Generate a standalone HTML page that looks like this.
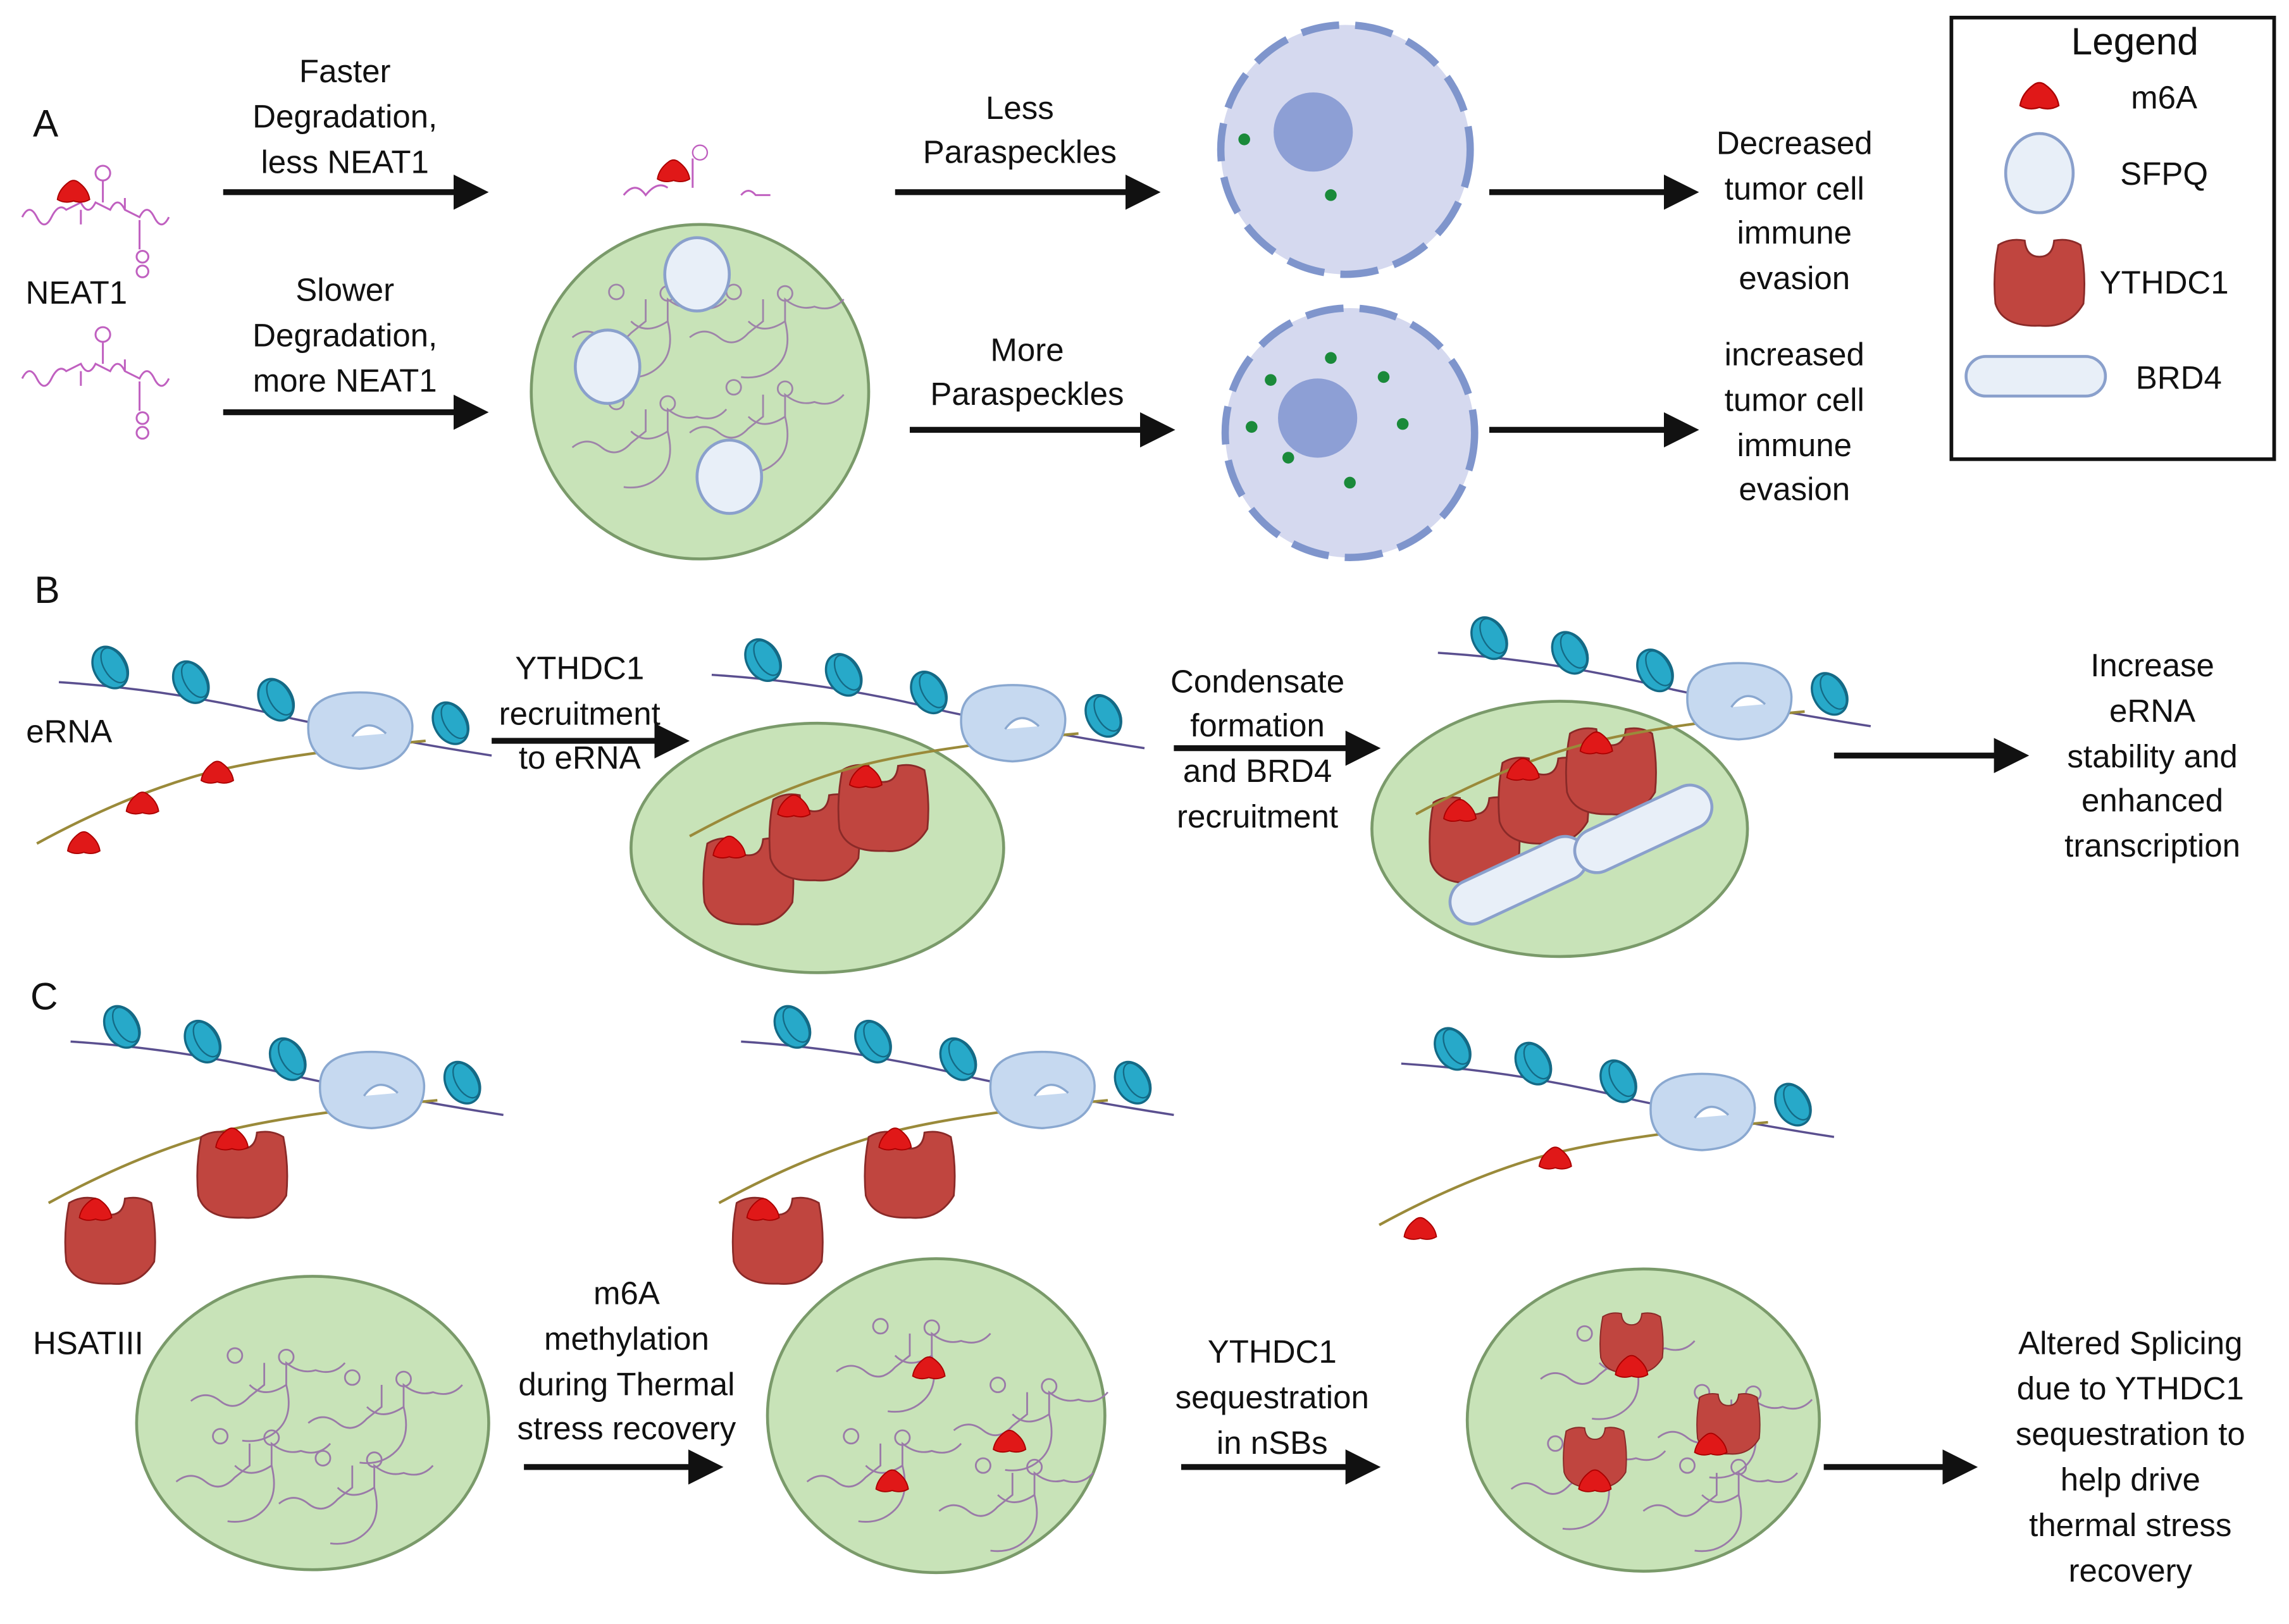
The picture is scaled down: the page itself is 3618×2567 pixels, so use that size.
<!DOCTYPE html>
<html><head><meta charset="utf-8"><style>
html,body{margin:0;padding:0;background:#fff;}
svg{display:block;}
text{font-family:"Liberation Sans",sans-serif;font-size:22px;fill:#111;text-anchor:middle;}
</style></head><body>
<svg width="3618" height="2567" viewBox="0 0 1560 1107" xmlns="http://www.w3.org/2000/svg">
<defs>
<marker id="ah" markerWidth="6" markerHeight="6" refX="4" refY="3" orient="auto" markerUnits="strokeWidth"><path d="M0,0 L6,3 L0,6 Z" fill="#111"/></marker>
<g id="m6a"><path d="M-11,5 Q-10,-2 -3,-7 Q0,-9 3,-7 Q10,-2 11,5 Q6,8 0,6 Q-6,8 -11,5Z" fill="#e01818" stroke="#a00" stroke-width="0.8"/></g>
<g id="yth"><path d="M-28,-25 Q-20,-30 -10,-28 Q-9,-17 0,-17 Q9,-17 10,-28 Q20,-30 28,-25 Q32,-5 30,15 Q20,32 0,30 Q-25,31 -30,15 Q-32,-5 -28,-25Z" fill="#c0453f" stroke="#8a2a28" stroke-width="1.2"/></g>
<g id="nuc"><ellipse rx="11" ry="15" fill="#27a9c9" stroke="#146a86" stroke-width="1.5"/><ellipse cx="3" rx="7" ry="13" fill="none" stroke="#146a86" stroke-width="1"/></g>
<g id="pol"><path d="M-35,-5 Q-35,-28 0,-28 Q35,-28 36,-5 Q36,22 0,24 Q-36,22 -35,-5Z" fill="#c6d9f0" stroke="#8aa8d0" stroke-width="1.5"/><path d="M-5,2 Q5,-12 18,0" fill="#fff" stroke="#8aa8d0" stroke-width="1.5"/></g>
<g id="sfpq"><ellipse rx="22" ry="25" fill="#e8eff8" stroke="#8aa0cc" stroke-width="2"/></g>
<g id="neat" fill="none" stroke="#c060c0" stroke-width="1.3"><path d="M0,30 q5,-10 10,0 q5,10 10,0 q5,-10 10,-5 l10,-5 q5,10 10,0 l10,5 q5,-10 10,0 l10,5 q5,-10 10,0 q5,10 10,0"/><path d="M55,20 v-15"/><circle cx="55" cy="0" r="5"/><path d="M80,32 v20"/><circle cx="82" cy="57" r="4"/><circle cx="82" cy="67" r="4"/><path d="M40,25 v10 M70,25 v-8"/></g>
<g id="srna" fill="none" stroke="#9a7aa8" stroke-width="1.2"><path d="M-50,0 q10,-8 20,0 q10,8 20,-3 l10,-8 v-15 M-10,-11 q10,10 25,0 v-15 q10,8 20,5 q12,4 20,-5"/><circle cx="-20" cy="-31" r="5"/><circle cx="15" cy="-30" r="5"/><path d="M15,-11 q5,20 -5,30 q-10,10 -25,8"/></g>
</defs>

<!-- A -->
<text x="31" y="93" style="font-size:26px">A</text>
<use href="#neat" x="15" y="118"/>
<use href="#m6a" x="50" y="131"/>
<text x="52" y="207">NEAT1</text>
<use href="#neat" x="15" y="228"/>
<text x="235" y="56">Faster</text><text x="235" y="87">Degradation,</text><text x="235" y="118">less NEAT1</text>
<line x1="152" y1="131" x2="325" y2="131" stroke="#111" stroke-width="4" marker-end="url(#ah)"/>
<text x="235" y="205">Slower</text><text x="235" y="236">Degradation,</text><text x="235" y="267">more NEAT1</text>
<line x1="152" y1="281" x2="325" y2="281" stroke="#111" stroke-width="4" marker-end="url(#ah)"/>
<path d="M425,133 q8,-10 15,0 q8,-10 15,-5 M472,128 v-20 M505,133 q5,-6 10,0 h10" fill="none" stroke="#c060c0" stroke-width="1.3"/><circle cx="477" cy="104" r="5" fill="none" stroke="#c060c0"/>
<use href="#m6a" x="459" y="117"/>
<ellipse cx="477" cy="267" rx="115" ry="114" fill="#c8e3b8" stroke="#7a9a6a" stroke-width="2"/>
<g opacity="0.9"><use href="#srna" x="440" y="230"/><use href="#srna" x="520" y="230"/><use href="#srna" x="440" y="305"/><use href="#srna" x="520" y="295"/></g>
<use href="#sfpq" x="475" y="187"/><use href="#sfpq" x="414" y="250"/><use href="#sfpq" x="497" y="325"/>
<text x="695" y="81">Less</text><text x="695" y="111">Paraspeckles</text>
<line x1="610" y1="131" x2="783" y2="131" stroke="#111" stroke-width="4" marker-end="url(#ah)"/>
<text x="700" y="246">More</text><text x="700" y="276">Paraspeckles</text>
<line x1="620" y1="293" x2="793" y2="293" stroke="#111" stroke-width="4" marker-end="url(#ah)"/>
<circle cx="917" cy="102" r="85" fill="#d5d9ef" stroke="#7f95cc" stroke-width="5" stroke-dasharray="26 11"/>
<circle cx="895" cy="90" r="27" fill="#8d9fd5"/>
<circle cx="848" cy="95" r="4" fill="#1a8a3a"/><circle cx="907" cy="133" r="4" fill="#1a8a3a"/>
<circle cx="920" cy="295" r="85" fill="#d5d9ef" stroke="#7f95cc" stroke-width="5" stroke-dasharray="26 11"/>
<circle cx="898" cy="285" r="27" fill="#8d9fd5"/>
<g fill="#1a8a3a"><circle cx="907" cy="244" r="4"/><circle cx="866" cy="259" r="4"/><circle cx="943" cy="257" r="4"/><circle cx="853" cy="291" r="4"/><circle cx="956" cy="289" r="4"/><circle cx="878" cy="312" r="4"/><circle cx="920" cy="329" r="4"/></g>
<line x1="1015" y1="131" x2="1150" y2="131" stroke="#111" stroke-width="4" marker-end="url(#ah)"/>
<line x1="1015" y1="293" x2="1150" y2="293" stroke="#111" stroke-width="4" marker-end="url(#ah)"/>
<text x="1223" y="105">Decreased</text><text x="1223" y="136">tumor cell</text><text x="1223" y="166">immune</text><text x="1223" y="197">evasion</text>
<text x="1223" y="249">increased</text><text x="1223" y="280">tumor cell</text><text x="1223" y="311">immune</text><text x="1223" y="341">evasion</text>
<!-- Legend -->
<rect x="1330" y="12" width="220" height="301" fill="#fff" stroke="#111" stroke-width="2.5"/>
<text x="1455" y="37" style="font-size:26px">Legend</text>
<use href="#m6a" transform="translate(1390 66) scale(1.2)"/>
<text x="1475" y="74">m6A</text>
<ellipse cx="1390" cy="118" rx="23" ry="27" fill="#e8eff8" stroke="#8aa0cc" stroke-width="2"/>
<text x="1475" y="126">SFPQ</text>
<use href="#yth" transform="translate(1390 192)"/>
<text x="1475" y="200">YTHDC1</text>
<rect x="1340" y="243" width="95" height="27" rx="13.5" fill="#e8eff8" stroke="#8aa0cc" stroke-width="2"/>
<text x="1485" y="265">BRD4</text>

<!-- B -->
<text x="32" y="411" style="font-size:26px">B</text>
<g id="chrom1">
<path d="M40,465 Q120,470 200,490 Q270,505 335,515" fill="none" stroke="#5a4f8f" stroke-width="1.5"/>
<use href="#nuc" transform="translate(75,455) rotate(-30)"/><use href="#nuc" transform="translate(130,465) rotate(-30)"/><use href="#nuc" transform="translate(188,477) rotate(-30)"/><use href="#nuc" transform="translate(307,493) rotate(-30)"/>
<path d="M25,575 Q80,545 130,530 Q180,515 290,505" fill="none" stroke="#9a8a3a" stroke-width="1.8"/>
<use href="#pol" x="245" y="500"/>
</g>
<use href="#m6a" x="57" y="575"/><use href="#m6a" x="97" y="548"/><use href="#m6a" x="148" y="527"/>
<text x="47" y="506">eRNA</text>
<text x="395" y="463">YTHDC1</text><text x="395" y="494">recruitment</text><text x="395" y="524">to eRNA</text>
<line x1="335" y1="505" x2="462" y2="505" stroke="#111" stroke-width="4" marker-end="url(#ah)"/>
<ellipse cx="557" cy="578" rx="127" ry="85" fill="#c8e3b8" stroke="#7a9a6a" stroke-width="2"/>
<use href="#yth" transform="translate(510,600)"/><use href="#yth" transform="translate(555,570)"/><use href="#yth" transform="translate(602,550)"/>
<g transform="translate(445,-5)"><use href="#chrom1"/></g>
<use href="#m6a" x="497" y="578"/><use href="#m6a" x="541" y="550"/><use href="#m6a" x="590" y="530"/>
<text x="857" y="472">Condensate</text><text x="857" y="502">formation</text><text x="857" y="533">and BRD4</text><text x="857" y="564">recruitment</text>
<line x1="800" y1="510" x2="933" y2="510" stroke="#111" stroke-width="4" marker-end="url(#ah)"/>
<ellipse cx="1063" cy="565" rx="128" ry="87" fill="#c8e3b8" stroke="#7a9a6a" stroke-width="2"/>
<use href="#yth" transform="translate(1005,572)"/><use href="#yth" transform="translate(1052,545)"/><use href="#yth" transform="translate(1098,525)"/>
<rect x="985" y="585" width="100" height="30" rx="15" transform="rotate(-25 1035 600)" fill="#e8eff8" stroke="#8aa0cc" stroke-width="2"/>
<rect x="1070" y="550" width="100" height="30" rx="15" transform="rotate(-25 1120 565)" fill="#e8eff8" stroke="#8aa0cc" stroke-width="2"/>
<g transform="translate(940,-20)"><use href="#chrom1"/></g>
<use href="#m6a" x="995" y="553"/><use href="#m6a" x="1038" y="525"/><use href="#m6a" x="1088" y="507"/>
<line x1="1250" y1="515" x2="1375" y2="515" stroke="#111" stroke-width="4" marker-end="url(#ah)"/>
<text x="1467" y="461">Increase</text><text x="1467" y="492">eRNA</text><text x="1467" y="523">stability and</text><text x="1467" y="553">enhanced</text><text x="1467" y="584">transcription</text>

<!-- C -->
<text x="30" y="688" style="font-size:26px">C</text>
<g transform="translate(8,245)"><use href="#chrom1"/></g>
<use href="#yth" transform="translate(75,845)"/><use href="#yth" transform="translate(165,800)"/>
<use href="#m6a" x="65" y="825"/><use href="#m6a" x="158" y="777"/>
<g transform="translate(465,245)"><use href="#chrom1"/></g>
<use href="#yth" transform="translate(530,845)"/><use href="#yth" transform="translate(620,800)"/>
<use href="#m6a" x="520" y="825"/><use href="#m6a" x="610" y="777"/>
<g transform="translate(915,260)"><use href="#chrom1"/></g>
<use href="#m6a" x="968" y="838"/><use href="#m6a" x="1060" y="790"/>
<ellipse cx="213" cy="970" rx="120" ry="100" fill="#c8e3b8" stroke="#7a9a6a" stroke-width="2"/>
<g><use href="#srna" x="180" y="955"/><use href="#srna" x="260" y="970"/><use href="#srna" x="170" y="1010"/><use href="#srna" x="240" y="1025"/></g>
<text x="60" y="923">HSATIII</text>
<text x="427" y="889">m6A</text><text x="427" y="920">methylation</text><text x="427" y="951">during Thermal</text><text x="427" y="981">stress recovery</text>
<line x1="357" y1="1000" x2="485" y2="1000" stroke="#111" stroke-width="4" marker-end="url(#ah)"/>
<ellipse cx="638" cy="965" rx="115" ry="107" fill="#c8e3b8" stroke="#7a9a6a" stroke-width="2"/>
<g><use href="#srna" x="620" y="935"/><use href="#srna" x="700" y="975"/><use href="#srna" x="600" y="1010"/><use href="#srna" x="690" y="1030"/></g>
<use href="#m6a" x="633" y="933"/><use href="#m6a" x="688" y="983"/><use href="#m6a" x="608" y="1010"/>
<text x="867" y="929">YTHDC1</text><text x="867" y="960">sequestration</text><text x="867" y="991">in nSBs</text>
<line x1="805" y1="1000" x2="933" y2="1000" stroke="#111" stroke-width="4" marker-end="url(#ah)"/>
<ellipse cx="1120" cy="968" rx="120" ry="103" fill="#c8e3b8" stroke="#7a9a6a" stroke-width="2"/>
<g><use href="#srna" x="1100" y="940"/><use href="#srna" x="1180" y="980"/><use href="#srna" x="1080" y="1015"/><use href="#srna" x="1170" y="1030"/></g>
<use href="#yth" transform="translate(1112,915) scale(0.7)"/><use href="#yth" transform="translate(1087,993) scale(0.7)"/><use href="#yth" transform="translate(1178,970) scale(0.7)"/>
<use href="#m6a" x="1112" y="932"/><use href="#m6a" x="1087" y="1010"/><use href="#m6a" x="1166" y="985"/>
<line x1="1243" y1="1000" x2="1340" y2="1000" stroke="#111" stroke-width="4" marker-end="url(#ah)"/>
<text x="1452" y="923">Altered Splicing</text><text x="1452" y="954">due to YTHDC1</text><text x="1452" y="985">sequestration to</text><text x="1452" y="1016">help drive</text><text x="1452" y="1047">thermal stress</text><text x="1452" y="1078">recovery</text>
</svg>
</body></html>
